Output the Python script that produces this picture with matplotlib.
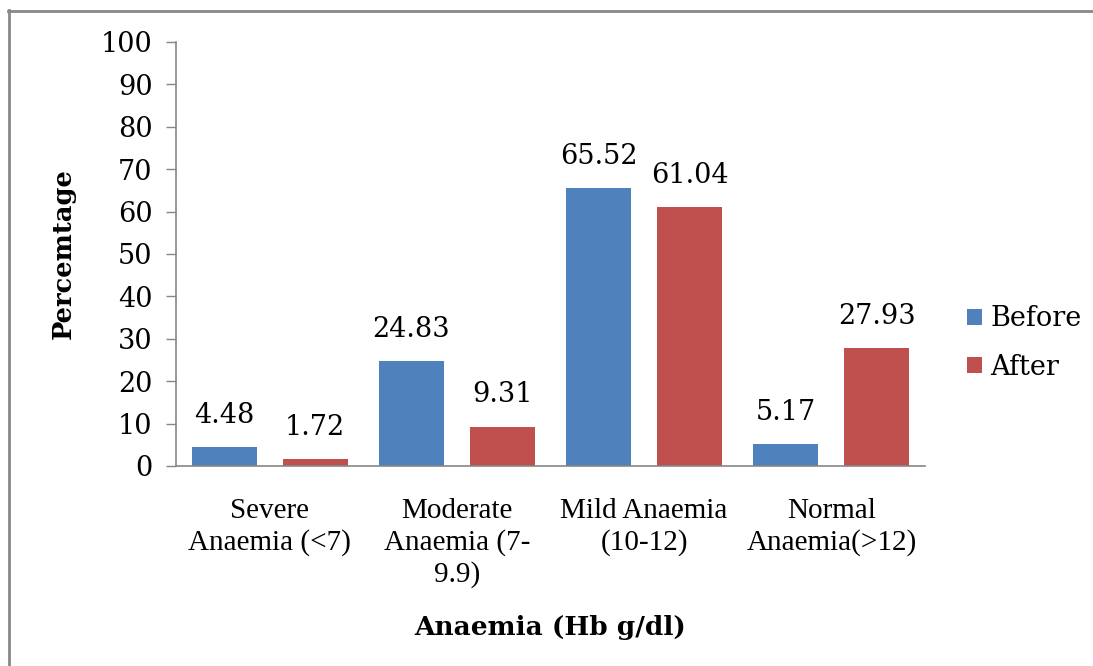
import matplotlib.pyplot as plt
import numpy as np
from matplotlib.lines import Line2D

categories = ['Severe\nAnaemia (<7)', 'Moderate\nAnaemia (7-\n9.9)',
              'Mild Anaemia\n(10-12)', 'Normal\nAnaemia(>12)']
before = [4.48, 24.83, 65.52, 5.17]
after = [1.72, 9.31, 61.04, 27.93]

blue = '#4F81BD'
red = '#C0504D'
grey = '#868686'

fig = plt.figure(figsize=(10.93, 6.66), dpi=100)
ax = fig.add_axes([176 / 1093, 1 - 466 / 666, (925 - 176) / 1093, (466 - 42) / 666])

x = np.arange(len(categories))
w = 0.347
off = 0.243
b1 = ax.bar(x - off, before, w, color=blue, label='Before')
b2 = ax.bar(x + off, after, w, color=red, label='After')

for bars, vals in ((b1, before), (b2, after)):
    for bar, v in zip(bars, vals):
        ax.annotate(f'{v:.2f}', (bar.get_x() + bar.get_width() / 2, v),
                    xytext=(0, 13), textcoords='offset points',
                    ha='center', va='bottom', family='DejaVu Serif', fontsize=19.5)

ax.set_xlim(-0.5, 3.5)
ax.set_ylim(0, 100)
ax.set_yticks(range(0, 101, 10))
ax.set_xticks(x)
ax.set_xticklabels(categories, family='Liberation Serif', fontsize=21, linespacing=1.25)
ax.tick_params(axis='x', length=0, pad=23)
ax.tick_params(axis='y', length=7, width=1, color=grey, pad=10, direction='out')
for lab in ax.get_yticklabels():
    lab.set_family('DejaVu Serif')
    lab.set_fontsize(19.5)

for s in ('top', 'right'):
    ax.spines[s].set_visible(False)
for s in ('left', 'bottom'):
    ax.spines[s].set_color(grey)
    ax.spines[s].set_linewidth(1.2)

ax.set_ylabel('Percemtage', family='DejaVu Serif', fontweight='bold', fontsize=18.5, labelpad=18)
ax.set_xlabel('Anaemia (Hb g/dl)', family='DejaVu Serif', fontweight='bold', fontsize=19, labelpad=19)

leg = ax.legend(loc='center left', bbox_to_anchor=(1.024, 0.29), frameon=False,
                prop={'family': 'DejaVu Serif', 'size': 19.5},
                handlelength=0.54, handleheight=0.54, handletextpad=0.3, labelspacing=0.78)

# outer border (top and left visible)
fig.add_artist(Line2D([8 / 1093, 1.0], [1 - 11 / 666, 1 - 11 / 666], color='#888888', lw=2))
fig.add_artist(Line2D([9 / 1093, 9 / 1093], [0, 1 - 10 / 666], color='#888888', lw=2))

fig.savefig('out.png', dpi=100)
